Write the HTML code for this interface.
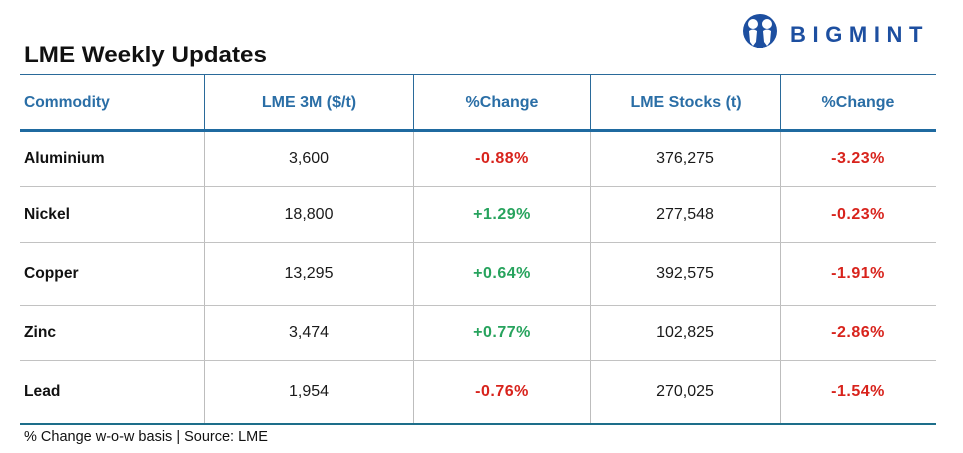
<!DOCTYPE html>
<html><head><meta charset="utf-8">
<style>
html,body{margin:0;padding:0;background:#fff;}
body{width:963px;height:453px;position:relative;overflow:hidden;font-family:"Liberation Sans",Arial,sans-serif;}
.a{position:absolute;white-space:nowrap;}
.t{line-height:20px;font-size:16px;}
.c{transform:translateX(-50%);}
.h{color:#2a6ea6;font-weight:bold;}
.lab{font-weight:bold;color:#111;font-size:15.6px;}
.num{color:#1a1a1a;}
.r{color:#d8231c;font-weight:bold;letter-spacing:0.5px;}
.g{color:#27a35d;font-weight:bold;letter-spacing:0.5px;}
.ln{position:absolute;}
</style></head><body>

<div class="a" style="left:24px;top:42px;font-size:22px;line-height:26px;font-weight:bold;color:#111;transform:scaleX(1.1);transform-origin:0 0;">LME Weekly Updates</div>

<svg class="a" style="left:741px;top:12px;" width="38" height="38" viewBox="0 0 38 38">
<circle cx="19" cy="19" r="17" fill="#1d4fa0"/>
<circle cx="12" cy="12" r="5" fill="#fff"/>
<circle cx="26" cy="12" r="5" fill="#fff"/>
<path d="M8 19 Q12 16 16 19 L15 30 L12 34 L9 30 Z" fill="#fff"/>
<path d="M22 19 Q26 16 30 19 L29 30 L26 34 L23 30 Z" fill="#fff"/>
<path d="M16 24 L19 31 L22 24 L22 36 L16 36 Z" fill="#1d4fa0"/>
</svg>
<div class="a" style="left:790px;top:22px;font-size:22px;line-height:26px;font-weight:bold;color:#1d4fa0;letter-spacing:6.6px;">BIGMINT</div>

<!-- lines -->
<div class="ln" style="left:20px;top:73.5px;width:916px;height:1.5px;background:#2a6a9a;"></div>
<div class="ln" style="left:20px;top:129px;width:916px;height:3px;background:#1f6aa0;"></div>
<div class="ln" style="left:20px;top:422.5px;width:916px;height:2.5px;background:#1d6e8a;"></div>

<div class="ln" style="left:204px;top:75px;width:1px;height:54px;background:#2a6a9a;"></div>
<div class="ln" style="left:413px;top:75px;width:1px;height:54px;background:#2a6a9a;"></div>
<div class="ln" style="left:590px;top:75px;width:1px;height:54px;background:#2a6a9a;"></div>
<div class="ln" style="left:780px;top:75px;width:1px;height:54px;background:#2a6a9a;"></div>

<div class="ln" style="left:204px;top:132px;width:1px;height:291px;background:#bdbdbd;"></div>
<div class="ln" style="left:413px;top:132px;width:1px;height:291px;background:#bdbdbd;"></div>
<div class="ln" style="left:590px;top:132px;width:1px;height:291px;background:#bdbdbd;"></div>
<div class="ln" style="left:780px;top:132px;width:1px;height:291px;background:#bdbdbd;"></div>

<div class="ln" style="left:20px;top:186px;width:916px;height:1px;background:#c2c2c2;"></div>
<div class="ln" style="left:20px;top:242px;width:916px;height:1px;background:#c2c2c2;"></div>
<div class="ln" style="left:20px;top:305px;width:916px;height:1px;background:#c2c2c2;"></div>
<div class="ln" style="left:20px;top:360px;width:916px;height:1px;background:#c2c2c2;"></div>

<!-- header -->
<div class="a t h" style="left:24px;top:93px;font-size:15.6px;">Commodity</div>
<div class="a t h c" style="left:309px;top:93px;">LME 3M ($/t)</div>
<div class="a t h c" style="left:502px;top:93px;">%Change</div>
<div class="a t h c" style="left:686px;top:93px;">LME Stocks (t)</div>
<div class="a t h c" style="left:858px;top:93px;">%Change</div>

<!-- rows -->
<div class="a t lab" style="left:24px;top:149px;">Aluminium</div>
<div class="a t num c" style="left:309px;top:149px;">3,600</div>
<div class="a t r c" style="left:502px;top:149px;">-0.88%</div>
<div class="a t num c" style="left:685px;top:149px;">376,275</div>
<div class="a t r c" style="left:858px;top:149px;">-3.23%</div>

<div class="a t lab" style="left:24px;top:205px;">Nickel</div>
<div class="a t num c" style="left:309px;top:205px;">18,800</div>
<div class="a t g c" style="left:502px;top:205px;">+1.29%</div>
<div class="a t num c" style="left:685px;top:205px;">277,548</div>
<div class="a t r c" style="left:858px;top:205px;">-0.23%</div>

<div class="a t lab" style="left:24px;top:264px;">Copper</div>
<div class="a t num c" style="left:309px;top:264px;">13,295</div>
<div class="a t g c" style="left:502px;top:264px;">+0.64%</div>
<div class="a t num c" style="left:685px;top:264px;">392,575</div>
<div class="a t r c" style="left:858px;top:264px;">-1.91%</div>

<div class="a t lab" style="left:24px;top:323px;">Zinc</div>
<div class="a t num c" style="left:309px;top:323px;">3,474</div>
<div class="a t g c" style="left:502px;top:323px;">+0.77%</div>
<div class="a t num c" style="left:685px;top:323px;">102,825</div>
<div class="a t r c" style="left:858px;top:323px;">-2.86%</div>

<div class="a t lab" style="left:24px;top:382px;">Lead</div>
<div class="a t num c" style="left:309px;top:382px;">1,954</div>
<div class="a t r c" style="left:502px;top:382px;">-0.76%</div>
<div class="a t num c" style="left:685px;top:382px;">270,025</div>
<div class="a t r c" style="left:858px;top:382px;">-1.54%</div>

<div class="a" style="left:24px;top:428px;font-size:14.5px;line-height:18px;color:#111;">% Change w-o-w basis | Source: LME</div>
</body></html>
